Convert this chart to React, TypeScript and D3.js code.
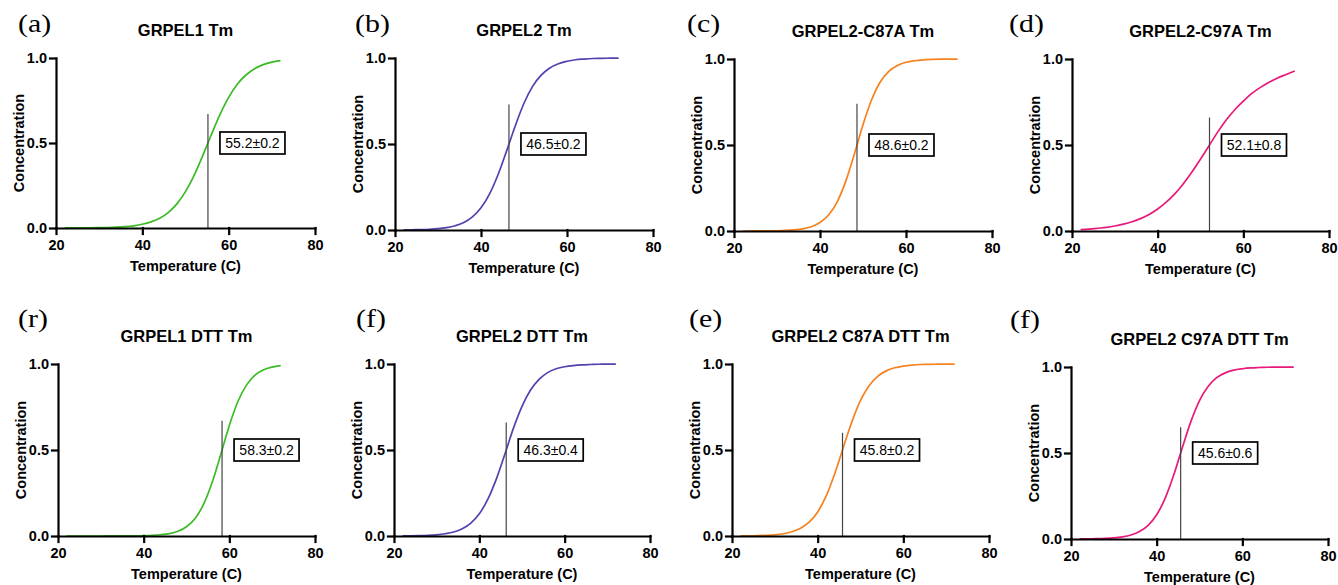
import React, { useEffect, useRef } from 'react';
import * as d3 from 'd3';

// temperatures (C) sampled along every fitted curve
const temperatures = [22, 24, 26, 28, 30, 32, 34, 36, 38, 40, 42, 44, 46, 48, 50, 52, 54, 56, 58, 60, 62, 64, 66, 68, 70, 72];

const grpel1 = [0.0003, 0.0004, 0.0007, 0.0011, 0.0018, 0.003, 0.005, 0.008, 0.013, 0.022, 0.036, 0.057, 0.091, 0.142, 0.214, 0.31, 0.426, 0.55, 0.668, 0.768, 0.846, 0.9, 0.937, 0.961, 0.976, 0.985];
const grpel2 = [0.0007, 0.0013, 0.0024, 0.0043, 0.0077, 0.014, 0.025, 0.043, 0.076, 0.129, 0.21, 0.324, 0.463, 0.608, 0.737, 0.835, 0.9, 0.942, 0.967, 0.981, 0.99, 0.994, 0.997, 0.998, 0.999, 0.9995];
const grpel2C87A = [0.0001, 0.0002, 0.0004, 0.0008, 0.0016, 0.0033, 0.0065, 0.0128, 0.025, 0.049, 0.093, 0.17, 0.29, 0.448, 0.618, 0.763, 0.866, 0.928, 0.962, 0.981, 0.99, 0.995, 0.9975, 0.9988, 0.9994, 0.9997];
const grpel2C97A = [0.008, 0.011, 0.016, 0.021, 0.029, 0.04, 0.054, 0.072, 0.096, 0.128, 0.168, 0.216, 0.275, 0.343, 0.418, 0.496, 0.575, 0.645, 0.705, 0.755, 0.8, 0.835, 0.865, 0.89, 0.91, 0.93];
const grpel1Dtt = [0, 0, 0, 0.0001, 0.0001, 0.0002, 0.0002, 0.0005, 0.0009, 0.0018, 0.0036, 0.0072, 0.014, 0.028, 0.054, 0.102, 0.185, 0.312, 0.474, 0.643, 0.782, 0.877, 0.935, 0.966, 0.982, 0.991];
const grpel2Dtt = [0.0006, 0.0012, 0.0021, 0.0039, 0.0071, 0.013, 0.023, 0.042, 0.075, 0.129, 0.214, 0.332, 0.477, 0.627, 0.754, 0.849, 0.911, 0.95, 0.972, 0.984, 0.991, 0.995, 0.997, 0.9985, 0.9992, 0.9996];
const grpel2C87ADtt = [0.0006, 0.0011, 0.002, 0.0038, 0.0071, 0.0132, 0.0244, 0.045, 0.08, 0.14, 0.233, 0.363, 0.516, 0.665, 0.788, 0.874, 0.928, 0.96, 0.978, 0.988, 0.994, 0.997, 0.998, 0.999, 0.9995, 0.9997];
const grpel2C97ADtt = [0.0005, 0.0009, 0.0018, 0.0034, 0.0065, 0.0123, 0.023, 0.043, 0.079, 0.141, 0.238, 0.373, 0.532, 0.684, 0.805, 0.887, 0.938, 0.966, 0.982, 0.99, 0.995, 0.997, 0.9985, 0.9993, 0.9996, 0.9998];

const panelLetters = ['(a)', '(b)', '(c)', '(d)', '(r)', '(f)', '(e)', '(f)'];
const panelTitles = ['GRPEL1 Tm', 'GRPEL2 Tm', 'GRPEL2-C87A Tm', 'GRPEL2-C97A Tm', 'GRPEL1 DTT Tm', 'GRPEL2 DTT Tm', 'GRPEL2 C87A DTT Tm', 'GRPEL2 C97A DTT Tm'];
const seriesValues = [grpel1, grpel2, grpel2C87A, grpel2C97A, grpel1Dtt, grpel2Dtt, grpel2C87ADtt, grpel2C97ADtt];
const tmValues = [55.2, 46.5, 48.6, 52.1, 58.3, 46.3, 45.8, 45.6];
const tmErrors = [0.2, 0.2, 0.2, 0.8, 0.2, 0.4, 0.2, 0.6];
const tmLineTops = [0.67, 0.73, 0.74, 0.66, 0.67, 0.66, 0.6, 0.65];
const xTicks = [20, 40, 60, 80];
const yTicks = [0, 0.5, 1.0];

const colors = ['#3bbb25', '#5540b0', '#f6821f', '#e8197b', '#3bbb25', '#5540b0', '#f6821f', '#e8197b'];

// pixel frame of each plot area
const frames = [
  { x0: 56, x1: 315, yTop: 58, yBot: 228, lx: 18, ly: 32 },
  { x0: 395, x1: 653, yTop: 58, yBot: 230, lx: 355, ly: 32 },
  { x0: 734, x1: 992, yTop: 59, yBot: 231, lx: 687, ly: 32 },
  { x0: 1072, x1: 1329, yTop: 59, yBot: 231, lx: 1009, ly: 32 },
  { x0: 58, x1: 315, yTop: 364, yBot: 536, lx: 18, ly: 327 },
  { x0: 394, x1: 650, yTop: 364, yBot: 536, lx: 356, ly: 327 },
  { x0: 732, x1: 989, yTop: 364, yBot: 536, lx: 689, ly: 327 },
  { x0: 1071, x1: 1328, yTop: 367, yBot: 539, lx: 1010, ly: 328 },
];

const SANS = 'Arial, "Liberation Sans", Helvetica, sans-serif';

const App = () => {
  const svgRef = useRef<SVGSVGElement>(null);

  useEffect(() => {
    const svg = d3.select(svgRef.current);
    svg.selectAll('*').remove();

    frames.forEach((f, i) => {
      const g = svg.append('g');
      const x = d3.scaleLinear().domain([20, 80]).range([f.x0, f.x1]);
      const y = d3.scaleLinear().domain([0, 1]).range([f.yBot, f.yTop]);

      // curve
      const line = d3.line<number>()
        .x((_, k) => x(temperatures[k]))
        .y(d => y(d))
        .curve(d3.curveMonotoneX);
      g.append('path')
        .datum(seriesValues[i])
        .attr('fill', 'none')
        .attr('stroke', colors[i])
        .attr('stroke-width', 1.7)
        .attr('d', line);

      // Tm marker
      g.append('line')
        .attr('x1', x(tmValues[i])).attr('x2', x(tmValues[i]))
        .attr('y1', y(0)).attr('y2', y(tmLineTops[i]))
        .attr('stroke', '#444').attr('stroke-width', 1.2);

      const bx = x(tmValues[i]) + 12;
      const by = y(0.5);
      g.append('rect')
        .attr('x', bx).attr('y', by - 11)
        .attr('width', 65).attr('height', 22)
        .attr('fill', '#fff').attr('stroke', '#000').attr('stroke-width', 1.7);
      g.append('text')
        .attr('x', bx + 32.5).attr('y', by + 5)
        .attr('text-anchor', 'middle')
        .attr('font-family', SANS).attr('font-size', 14)
        .text(`${tmValues[i].toFixed(1)}±${tmErrors[i].toFixed(1)}`);

      // axes
      const xAxis = g.append('g')
        .attr('transform', `translate(0,${f.yBot})`)
        .call(d3.axisBottom(x).tickValues(xTicks).tickSize(6).tickSizeOuter(0).tickPadding(6));
      const yAxis = g.append('g')
        .attr('transform', `translate(${f.x0},0)`)
        .call(d3.axisLeft(y).tickValues(yTicks).tickFormat(d3.format('.1f')).tickSize(6).tickSizeOuter(0).tickPadding(3));
      [xAxis, yAxis].forEach(a => {
        a.selectAll('path, line').attr('stroke', '#000').attr('stroke-width', 2.2).attr('stroke-linecap', 'square');
        a.selectAll('text')
          .attr('fill', '#000')
          .attr('font-family', SANS).attr('font-weight', 'bold').attr('font-size', 14.5);
      });

      // labels
      g.append('text')
        .attr('x', (f.x0 + f.x1) / 2).attr('y', f.yTop - 22)
        .attr('text-anchor', 'middle')
        .attr('font-family', SANS).attr('font-weight', 'bold').attr('font-size', 16.5)
        .text(panelTitles[i]);
      g.append('text')
        .attr('x', (f.x0 + f.x1) / 2).attr('y', f.yBot + 43)
        .attr('text-anchor', 'middle')
        .attr('font-family', SANS).attr('font-weight', 'bold').attr('font-size', 14.5)
        .text('Temperature (C)');
      g.append('text')
        .attr('transform', `translate(${f.x0 - 32},${(f.yTop + f.yBot) / 2}) rotate(-90)`)
        .attr('text-anchor', 'middle')
        .attr('font-family', SANS).attr('font-weight', 'bold').attr('font-size', 14.5)
        .text('Concentration');
      g.append('text')
        .attr('transform', `translate(${f.lx},${f.ly}) scale(1.15,1)`)
        .attr('font-family', '"Times New Roman", "Liberation Serif", serif').attr('font-size', 26)
        .text(panelLetters[i]);
    });
  }, []);

  return (
    <svg ref={svgRef} width={1338} height={585} style={{ position: 'absolute', left: 0, top: 0, background: '#fff' }} />
  );
};

export default App;
